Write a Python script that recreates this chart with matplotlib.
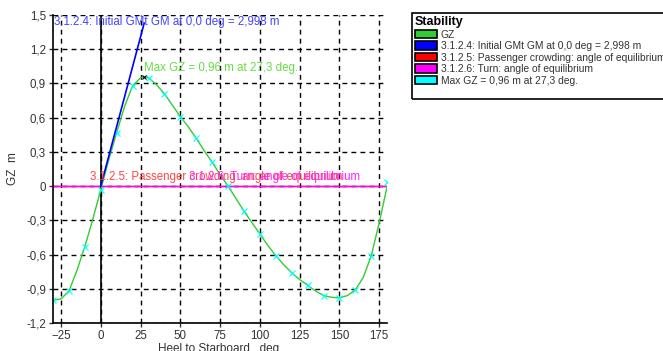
import matplotlib
matplotlib.use("Agg")
from matplotlib import pyplot as plt
from matplotlib.patches import Patch, Rectangle
from matplotlib.ticker import FuncFormatter

plt.rcParams['font.family'] = ['Liberation Sans', 'DejaVu Sans']

# GZ curve
heel = [-30, -25, -20, -15, -10, -5, 0, 5, 10, 15, 20, 25, 27.3, 30, 35, 40, 45, 50,
        55, 60, 65, 70, 75, 80, 85, 90, 95, 100, 105, 110, 115, 120, 125, 130,
        135, 140, 145, 150, 155, 160, 165, 170, 175, 180]
gz = [-1.00, -0.99, -0.92, -0.74, -0.53, -0.29, -0.03, 0.23, 0.47, 0.70, 0.88, 0.95, 0.96, 0.95,
      0.89, 0.81, 0.71, 0.61, 0.52, 0.42, 0.31, 0.21, 0.10, 0.00, -0.11, -0.22, -0.32,
      -0.42, -0.52, -0.61, -0.69, -0.76, -0.82, -0.87, -0.92, -0.96, -0.975, -0.98,
      -0.96, -0.91, -0.80, -0.61, -0.32, 0.00]
mark_heel = [-30, -20, -10, 0, 10, 20, 30, 40, 50, 60, 70, 80, 90, 100, 110, 120,
             130, 140, 150, 160, 170, 180]
mark_gz = [-1.00, -0.92, -0.53, -0.03, 0.47, 0.88, 0.95, 0.81, 0.61, 0.42, 0.21, 0.00,
           -0.22, -0.42, -0.61, -0.76, -0.87, -0.96, -0.98, -0.91, -0.61, 0.04]

gm_heel = [0, 27.3]
gm_gz = [0, 1.43]
max_heel = 27.3
max_gz = 0.96

fig = plt.figure(figsize=(6.63, 3.51), dpi=100)
ax = fig.add_axes([0.08, 0.08, 0.504, 0.877])

ax.axhline(0, color='red', lw=1)
ax.axhline(0, color='magenta', lw=1)
ax.axvline(0, color='black', lw=1.2)
ax.plot(heel, gz, color='#33cc33', lw=1)
ax.plot(mark_heel, mark_gz, ls='none', marker='x', color='cyan', ms=4, mew=0.8)
ax.plot(gm_heel, gm_gz, color='blue', lw=1.2)
ax.plot([max_heel], [max_gz], marker='x', color='black', ms=3.5, mew=0.8)

fs = 8.3
ax.text(-29.5, 1.44, '3.1.2.4: Initial GMt GM at 0,0 deg = 2,998 m', color='#4444ff',
        fontsize=fs, va='center')
ax.text(27, 1.035, 'Max GZ = 0,96 m at 27,3 deg.', color='#66dd44', fontsize=fs, va='center')
ax.text(-7, 0.08, '3.1.2.5: Passenger crowding: angle of equilibrium', color='#ff4444',
        fontsize=fs, va='center')
ax.text(55.5, 0.08, '3.1.2.6: Turn: angle of equilibrium', color='#ff22ff', fontsize=fs,
        va='center')

ax.set_xlim(-30, 180)
ax.set_ylim(-1.2, 1.5)
ax.set_xticks([-25, 0, 25, 50, 75, 100, 125, 150, 175])
ax.set_yticks([-1.2, -0.9, -0.6, -0.3, 0, 0.3, 0.6, 0.9, 1.2, 1.5])
ax.yaxis.set_major_formatter(FuncFormatter(
    lambda v, p: '0' if abs(v) < 1e-9 else ('%.1f' % v).replace('.', ',')))
ax.grid(True, color='black', ls=(0, (3.5, 3)), lw=1)
ax.tick_params(labelsize=8.3, colors='#333333', length=3, width=1, pad=2)
for s in ['top', 'right']:
    ax.spines[s].set_visible(False)
ax.spines['left'].set_linewidth(1.2)
ax.spines['bottom'].set_linewidth(1.2)
ax.set_ylabel('GZ  m', fontsize=8.5, color='#333333', labelpad=5)
ax.set_xlabel('Heel to Starboard   deg.', fontsize=8.5, color='#333333', labelpad=1)

handles = [Patch(fc='#33cc33', ec='black', lw=1.2, label='GZ'),
           Patch(fc='blue', ec='black', lw=1.2, label='3.1.2.4: Initial GMt GM at 0,0 deg = 2,998 m'),
           Patch(fc='red', ec='black', lw=1.2, label='3.1.2.5: Passenger crowding: angle of equilibrium'),
           Patch(fc='magenta', ec='black', lw=1.2, label='3.1.2.6: Turn: angle of equilibrium'),
           Patch(fc='cyan', ec='black', lw=1.2, label='Max GZ = 0,96 m at 27,3 deg.')]
leg = fig.legend(handles=handles, loc='upper left', bbox_to_anchor=(0.621, 0.963),
                 bbox_transform=fig.transFigure, fontsize=7.4, title='Stability',
                 title_fontproperties={'weight': 'bold', 'size': 9},
                 alignment='left', frameon=False, labelcolor='#333333',
                 handlelength=2.2, handleheight=0.9, handletextpad=0.3,
                 labelspacing=0.15, borderaxespad=0, borderpad=0.3)
# legend box drawn separately: it runs past the right edge and has extra room below
fig.patches.append(Rectangle((0.621, 0.718), 0.4, 0.245, transform=fig.transFigure,
                             fill=False, ec='black', lw=1.2))

fig.savefig('out.png', dpi=100)
